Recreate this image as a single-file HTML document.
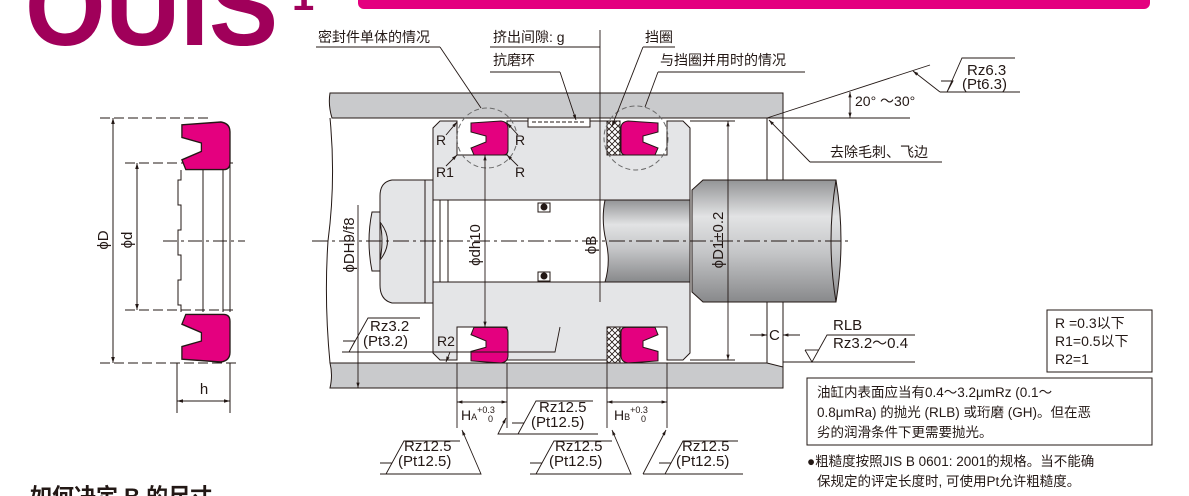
<!DOCTYPE html>
<html><head><meta charset="utf-8"><style>
html,body{margin:0;padding:0;background:#fff;width:1189px;height:496px;overflow:hidden}
svg{display:block}
text{font-family:"Liberation Sans","Noto Sans CJK SC",sans-serif;fill:#231815}
</style></head><body>
<svg width="1189" height="496" viewBox="0 0 1189 496" xmlns="http://www.w3.org/2000/svg">
<defs>
<linearGradient id="rod" x1="0" y1="0" x2="0" y2="1">
<stop offset="0" stop-color="#939496"/><stop offset="0.3" stop-color="#e2e3e4"/><stop offset="0.6" stop-color="#c4c5c7"/><stop offset="1" stop-color="#88898b"/>
</linearGradient>
<pattern id="hatch" width="6" height="6" patternUnits="userSpaceOnUse">
<rect width="6" height="6" fill="#fff"/><path d="M0,0L6,6M6,0L0,6" stroke="#231815" stroke-width="0.8"/>
</pattern>
<path id="seal" d="M3,2 L33,0 Q40,1 40,7 L40,29 Q40,34 35,34 L6,34 L3,27 L18,21 L18,15 L3,11 Z" fill="#e4007f" stroke="#231815" stroke-width="1"/>
<marker id="ar" viewBox="0 0 10 10" refX="10" refY="5" markerWidth="8" markerHeight="6" orient="auto-start-reverse"><path d="M0,2L10,5L0,8Z" fill="#231815"/></marker>
</defs>

<text x="25" y="45" font-size="110" font-weight="bold" textLength="253" lengthAdjust="spacingAndGlyphs" style="fill:#a0005a">OUIS</text>
<text x="292" y="10" font-size="40" font-weight="bold" style="fill:#a0005a">1</text>
<rect x="358" y="-12" width="792" height="21" rx="6" fill="#e4007f"/>

<g stroke="#231815" stroke-width="1" fill="none">
<line x1="100" y1="118" x2="210" y2="118" stroke-dasharray="10,4"/>
<line x1="125" y1="163" x2="237" y2="163" stroke-dasharray="10,4"/>
<line x1="125" y1="310" x2="237" y2="310" stroke-dasharray="10,4"/>
<line x1="100" y1="363" x2="237" y2="363" stroke-dasharray="10,4"/>
<line x1="163" y1="241" x2="245" y2="241" stroke-dasharray="14,4,3,4"/>
<line x1="113" y1="118" x2="113" y2="363" marker-start="url(#ar)" marker-end="url(#ar)"/>
<line x1="137" y1="163" x2="137" y2="310" marker-end="url(#ar)"/>
<line x1="137" y1="163" x2="137" y2="168" marker-start="url(#ar)"/>
<path d="M181,170 L181,180 L178,180 L178,205 L181,205 L181,230 L178,230 L178,255 L181,255 L181,280 L178,280 L178,305 L181,305 L181,312"/>
<line x1="203" y1="170" x2="203" y2="312"/>
<line x1="223" y1="170" x2="223" y2="312"/>
<line x1="230" y1="165" x2="230" y2="312"/>
<line x1="177" y1="363" x2="177" y2="413"/>
<line x1="230" y1="363" x2="230" y2="413"/>
<line x1="177" y1="401" x2="230" y2="401" marker-start="url(#ar)" marker-end="url(#ar)"/>
</g>
<use href="#seal" transform="translate(178,122) scale(1.3,1.4)"/>
<use href="#seal" transform="translate(178,362) scale(1.3,-1.4)"/>
<text x="204" y="394" font-size="15" text-anchor="middle">h</text>
<text transform="translate(108,240) rotate(-90)" font-size="15" text-anchor="middle">ϕD</text>
<text transform="translate(132,240) rotate(-90)" font-size="15" text-anchor="middle">ϕd</text>

<path d="M330,93 L783,93 L783,118 L332,118 Q328,105 330,93Z" fill="#c9cacc" stroke="#231815"/>
<path d="M330,363 L767,363 L783,367 L783,388 L330,388 Q333,375 330,363Z" fill="#c9cacc" stroke="#231815"/>
<path d="M330,118 Q336,180 328,241 Q324,300 330,363" fill="none" stroke="#231815"/>
<line x1="767" y1="118" x2="767" y2="363" stroke="#231815"/>
<line x1="783" y1="118" x2="783" y2="367" stroke="#231815"/>

<path d="M692,190 L703,180 L836,180 Q846,241 836,302 L703,302 L692,292Z" fill="url(#rod)" stroke="#231815"/>
<path d="M836,180 Q826,241 836,302" fill="none" stroke="#231815"/>

<path d="M440,121 L457,121 L457,155 L507,155 L507,121 L607,121 L607,155 L667,155 L667,121 L683,121 L690,128 L690,200 L433,200 L433,128Z" fill="#e4e5e7" stroke="#231815"/>
<path d="M433,282 L690,282 L690,353 L683,360 L667,360 L667,327 L607,327 L607,360 L507,360 L507,327 L457,327 L457,360 L440,360 L433,353Z" fill="#e4e5e7" stroke="#231815"/>
<rect x="433" y="200" width="15" height="82" fill="#fff" stroke="#231815"/>
<line x1="440" y1="200" x2="440" y2="282" stroke="#231815"/>
<path d="M605,200 L690,200 L690,282 L605,282 Q611,262 606,241 Q601,220 605,200Z" fill="url(#rod)" stroke="#231815"/>
<rect x="538" y="203" width="12" height="9" fill="#fff" stroke="#231815"/><circle cx="544" cy="207" r="3.5" fill="#231815"/>
<rect x="538" y="272" width="12" height="9" fill="#fff" stroke="#231815"/><circle cx="544" cy="276" r="3.5" fill="#231815"/>
<path d="M392,180 L425,180 L425,303 L392,303 Q380,300 380,285 L380,260 Q384,241 380,222 L380,196 Q380,182 392,180Z" fill="#e4e5e7" stroke="#231815"/>
<rect x="425" y="180" width="8" height="123" fill="#e4e5e7" stroke="#231815"/>
<path d="M380,222 Q395,241 380,260" fill="none" stroke="#231815"/>
<path d="M372,212 L380,212 L380,271 L372,271 Q366,241 372,212Z" fill="#e4e5e7" stroke="#231815"/>
<rect x="528" y="118" width="62" height="9" fill="#fff" stroke="#231815"/>
<line x1="532" y1="122" x2="586" y2="122" stroke="#231815" stroke-dasharray="4,2"/>
<rect x="607" y="121" width="13" height="34" fill="url(#hatch)" stroke="#231815"/>
<rect x="607" y="327" width="13" height="36" fill="url(#hatch)" stroke="#231815"/>
<use href="#seal" transform="translate(468,121)"/>
<use href="#seal" transform="translate(468,363) scale(1,-1.05)"/>
<use href="#seal" transform="translate(661,121) scale(-1,1)"/>
<use href="#seal" transform="translate(661,363) scale(-1,-1.05)"/>
<circle cx="487" cy="138" r="30" fill="none" stroke="#6a6a6a" stroke-dasharray="5,3"/>
<circle cx="636" cy="138" r="32" fill="none" stroke="#6a6a6a" stroke-dasharray="5,3"/>

<line x1="312" y1="241" x2="852" y2="241" stroke="#231815" stroke-dasharray="16,4,3,4"/>

<g stroke="#231815" fill="none" stroke-width="0.9">
<line x1="358" y1="205" x2="358" y2="388" marker-end="url(#ar)"/>
<line x1="485" y1="155" x2="485" y2="327" marker-start="url(#ar)" marker-end="url(#ar)"/>
<line x1="600" y1="30" x2="600" y2="302"/>
<line x1="690" y1="121" x2="735" y2="121"/>
<line x1="690" y1="360" x2="735" y2="360"/>
<line x1="728" y1="121" x2="728" y2="360" marker-start="url(#ar)" marker-end="url(#ar)"/>
<line x1="750" y1="335" x2="767" y2="335" marker-end="url(#ar)"/>
<line x1="800" y1="335" x2="783" y2="335" marker-end="url(#ar)"/>
<line x1="783" y1="362" x2="915" y2="362"/>
<path d="M805,350 L812,362 L827,335 L915,335"/>
<path d="M805,350 L819,350"/>
<line x1="767" y1="118" x2="910" y2="118"/>
<line x1="767" y1="118" x2="930" y2="65"/>
<line x1="850" y1="92" x2="850" y2="118" marker-start="url(#ar)" marker-end="url(#ar)"/>
<line x1="940" y1="92" x2="913" y2="71" marker-end="url(#ar)"/>
<path d="M940,92 L1020,92 M941,81 L953,81 L947,92 L962,58 L1015,58"/>
<line x1="810" y1="162" x2="769" y2="120" marker-end="url(#ar)"/>
<line x1="810" y1="162" x2="942" y2="162"/>
<line x1="316" y1="47" x2="440" y2="47"/><line x1="440" y1="47" x2="481" y2="108"/>
<line x1="490" y1="47" x2="600" y2="47"/>
<line x1="490" y1="72" x2="560" y2="72"/><line x1="560" y1="72" x2="576" y2="120" marker-end="url(#ar)"/>
<line x1="643" y1="47" x2="675" y2="47"/><line x1="643" y1="47" x2="612" y2="126" marker-end="url(#ar)"/>
<line x1="658" y1="72" x2="805" y2="72"/><line x1="658" y1="72" x2="645" y2="107"/>
<line x1="446" y1="135" x2="457" y2="122" marker-end="url(#ar)"/>
<line x1="446" y1="166" x2="457" y2="155" marker-end="url(#ar)"/>
<line x1="518" y1="135" x2="507" y2="123" marker-end="url(#ar)"/>
<line x1="518" y1="166" x2="507" y2="155" marker-end="url(#ar)"/>
<line x1="450" y1="352" x2="446" y2="362" marker-end="url(#ar)"/>
<path d="M342,352 L555,352 L560,327"/>
<path d="M343,341 L355,341 L349,352 L368,318 L420,318"/>
<line x1="457" y1="363" x2="457" y2="428"/><line x1="507" y1="363" x2="507" y2="428"/>
<line x1="607" y1="363" x2="607" y2="428"/><line x1="667" y1="363" x2="667" y2="428"/>
<line x1="457" y1="402" x2="507" y2="402" marker-start="url(#ar)" marker-end="url(#ar)"/>
<line x1="607" y1="402" x2="667" y2="402" marker-start="url(#ar)" marker-end="url(#ar)"/>
<path d="M380,474 L481,474 L462,430" marker-end="url(#ar)"/>
<path d="M380,463 L392,463 L386,474 L404,441 L460,441"/>
<path d="M598,434 L498,434 L506,418" marker-end="url(#ar)"/>
<path d="M512,423 L524,423 L518,434 L536,401 L593,401"/>
<path d="M530,474 L631,474 L612,430" marker-end="url(#ar)"/>
<path d="M530,463 L542,463 L536,474 L554,441 L612,441"/>
<path d="M643,474 L743,474 M643,474 L666,430" marker-end="url(#ar)"/>
<path d="M659,463 L671,463 L665,474 L683,441 L738,441"/>
</g>

<g font-size="14">
<text x="318" y="42">密封件单体的情况</text>
<text x="493" y="42">挤出间隙: g</text>
<text x="493" y="65">抗磨环</text>
<text x="645" y="42">挡圈</text>
<text x="660" y="65">与挡圈并用时的情况</text>
<text x="830" y="157">去除毛刺、飞边</text>
<text x="855" y="106">20° ～30°</text>
<text x="436" y="145">R</text><text x="436" y="177">R1</text>
<text x="515" y="145">R</text><text x="515" y="177">R</text>
<text x="437" y="346">R2</text>
<text x="769" y="340" font-size="15">C</text>
<text x="461" y="420">H<tspan font-size="9">A</tspan><tspan font-size="9" dy="-7">+0.3</tspan></text>
<text x="488" y="422" font-size="9">0</text>
<text x="614" y="420">H<tspan font-size="9">B</tspan><tspan font-size="9" dy="-7">+0.3</tspan></text>
<text x="641" y="422" font-size="9">0</text>
</g>
<g font-size="15">
<text x="967" y="75">Rz6.3</text>
<text x="962" y="89">(Pt6.3)</text>
<text x="370" y="331">Rz3.2</text>
<text x="363" y="346">(Pt3.2)</text>
<text x="833" y="330">RLB</text>
<text x="833" y="348">Rz3.2～0.4</text>
<text x="539" y="412">Rz12.5</text><text x="531" y="427">(Pt12.5)</text>
<text x="404" y="451">Rz12.5</text><text x="398" y="466">(Pt12.5)</text>
<text x="555" y="451">Rz12.5</text><text x="549" y="466">(Pt12.5)</text>
<text x="682" y="451">Rz12.5</text><text x="676" y="466">(Pt12.5)</text>
<text transform="translate(354,245) rotate(-90)" text-anchor="middle">ϕDH9/f8</text>
<text transform="translate(480,245) rotate(-90)" text-anchor="middle">ϕdh10</text>
<text transform="translate(596,245) rotate(-90)" text-anchor="middle">ϕB</text>
<text transform="translate(723,240) rotate(-90)" text-anchor="middle">ϕD1±0.2</text>
</g>

<rect x="1047" y="310" width="105" height="62" fill="none" stroke="#231815"/>
<g font-size="14">
<text x="1055" y="328">R =0.3以下</text>
<text x="1055" y="346">R1=0.5以下</text>
<text x="1055" y="364">R2=1</text>
</g>
<rect x="807" y="378" width="345" height="67" fill="none" stroke="#231815"/>
<g font-size="13.5">
<text x="817" y="397">油缸内表面应当有0.4～3.2μmRz (0.1～</text>
<text x="817" y="417">0.8μmRa) 的抛光 (RLB) 或珩磨 (GH)。但在恶</text>
<text x="817" y="437">劣的润滑条件下更需要抛光。</text>
<text x="807" y="466">●粗糙度按照JIS B 0601: 2001的规格。当不能确</text>
<text x="817" y="486">保规定的评定长度时, 可使用Pt允许粗糙度。</text>
</g>
<text x="30" y="504" font-size="22" font-weight="bold">如何决定 B 的尺寸</text>
</svg>
</body></html>
